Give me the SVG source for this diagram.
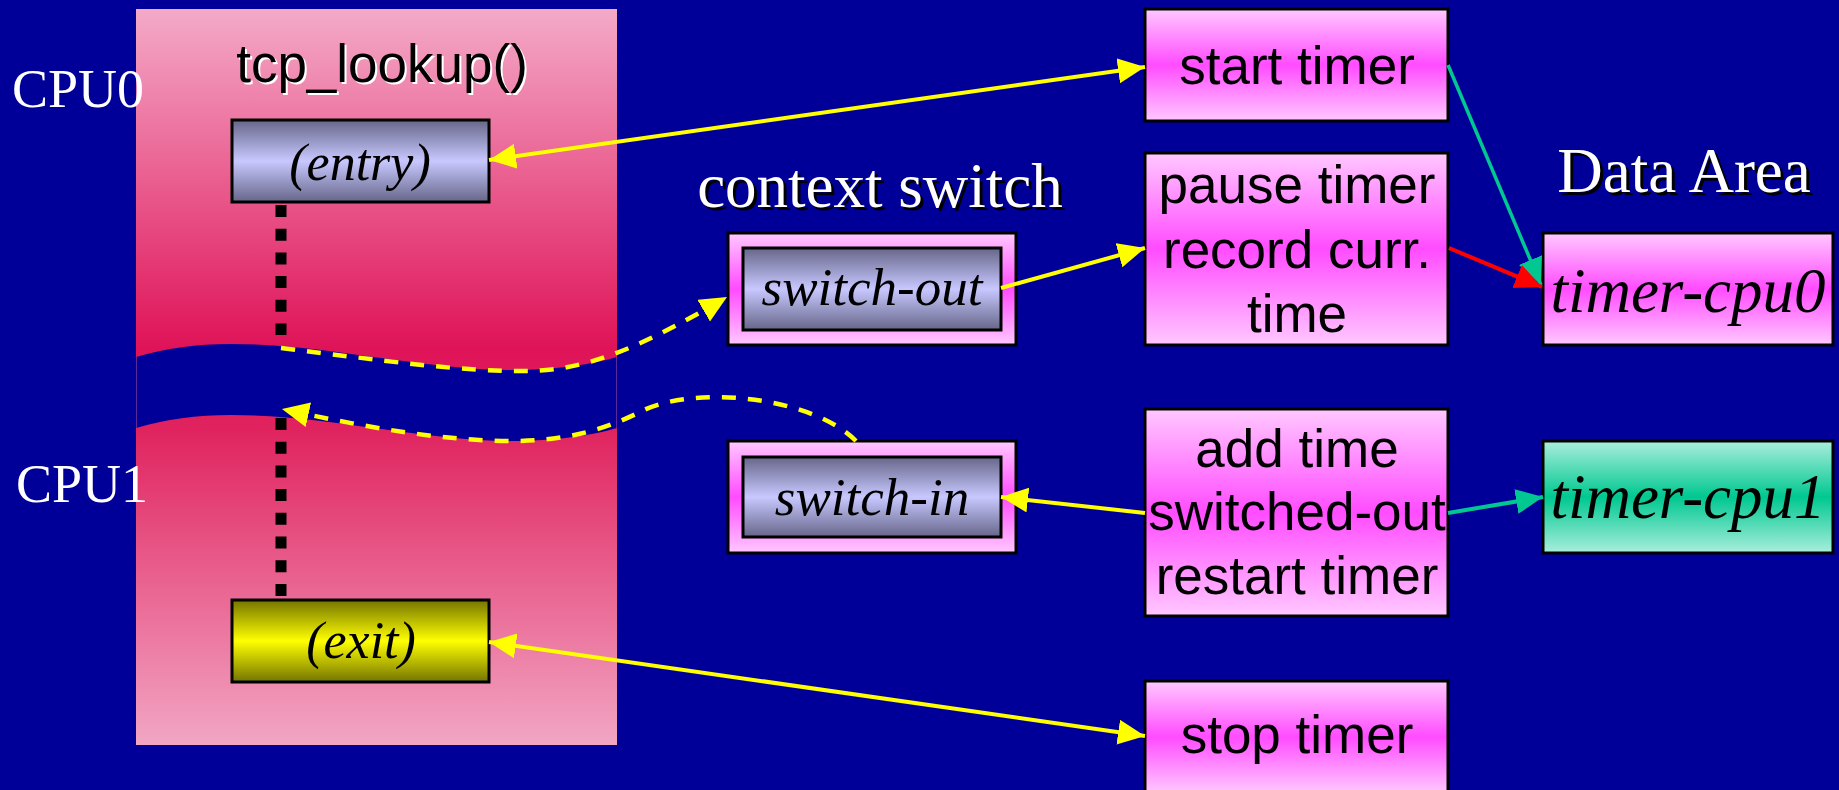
<svg xmlns="http://www.w3.org/2000/svg" width="1839" height="790" viewBox="0 0 1839 790">
<defs>
<style>
.sans{font-family:"Liberation Sans",Arial,sans-serif}
.serif{font-family:"Liberation Serif","Times New Roman",serif}
.it{font-style:italic}
.box{stroke:#000;stroke-width:3}
.lbl{font-size:53px;fill:#000;text-anchor:middle}
.ital{font-size:52px;fill:#000;text-anchor:middle}
.cpu{font-size:54px;fill:#fff}
.head{font-size:63px;text-anchor:middle}
.ylw{stroke:#ffff00;stroke-width:4;fill:none}
.dash{stroke:#ffff00;stroke-width:4.5;fill:none;stroke-dasharray:14 12}
.dots{stroke:#000;stroke-width:11;stroke-dasharray:12 11.7}
</style>
<linearGradient id="gPanel" gradientUnits="userSpaceOnUse" x1="0" y1="9" x2="0" y2="745">
<stop offset="0" stop-color="#f4aac8"/>
<stop offset="0.46" stop-color="#df1358"/>
<stop offset="0.57" stop-color="#e0235f"/>
<stop offset="1" stop-color="#f2a6c4"/>
</linearGradient>
<linearGradient id="gBlue" x1="0" y1="0" x2="0" y2="1">
<stop offset="0" stop-color="#66668a"/>
<stop offset="0.5" stop-color="#c8c8ff"/>
<stop offset="1" stop-color="#66668a"/>
</linearGradient>
<linearGradient id="gYel" x1="0" y1="0" x2="0" y2="1">
<stop offset="0" stop-color="#747400"/>
<stop offset="0.5" stop-color="#ffff00"/>
<stop offset="1" stop-color="#747400"/>
</linearGradient>
<linearGradient id="gPink" x1="0" y1="0" x2="0" y2="1">
<stop offset="0" stop-color="#ffc8ff"/>
<stop offset="0.5" stop-color="#ff4cff"/>
<stop offset="1" stop-color="#ffc8ff"/>
</linearGradient>
<linearGradient id="gGreen" x1="0" y1="0" x2="0" y2="1">
<stop offset="0" stop-color="#aaeedd"/>
<stop offset="0.5" stop-color="#00c890"/>
<stop offset="1" stop-color="#aaeedd"/>
</linearGradient>
<marker id="aY" markerUnits="userSpaceOnUse" markerWidth="28" markerHeight="26" refX="27" refY="12.5" orient="auto-start-reverse">
<path d="M0,0 L27,12.5 L0,25 Z" fill="#ffff00"/>
</marker>
<marker id="aG" markerUnits="userSpaceOnUse" markerWidth="28" markerHeight="26" refX="27" refY="12.5" orient="auto">
<path d="M0,0 L27,12.5 L0,25 Z" fill="#00c890"/>
</marker>
<marker id="aR" markerUnits="userSpaceOnUse" markerWidth="28" markerHeight="26" refX="27" refY="12.5" orient="auto">
<path d="M0,0 L27,12.5 L0,25 Z" fill="#ff0000"/>
</marker>
</defs>
<rect x="0" y="0" width="1839" height="790" fill="#000099"/>

<g id="panel">
<rect x="136" y="9" width="481" height="736" fill="url(#gPanel)"/>
<path d="M136,357 Q180,344 231,344 C330,344 430,372 524,370 Q580,368 617,357 L617,428 Q580,439 524,441 C430,443 330,415 231,415 Q180,415 136,428 Z" fill="#000099"/>
<line x1="136.5" y1="357" x2="136.5" y2="428" stroke="#5a2a9a" stroke-width="1"/>
<line x1="616.5" y1="357" x2="616.5" y2="428" stroke="#5a2a9a" stroke-width="1"/>
<text class="sans" x="384" y="84" font-size="53" fill="#fff" text-anchor="middle">tcp_lookup()</text>
<text class="sans" x="382" y="82" font-size="53" fill="#000" text-anchor="middle">tcp_lookup()</text>
</g>

<g id="cpu0-label"><text class="serif cpu" x="12" y="107">CPU0</text></g>
<g id="cpu1-label"><text class="serif cpu" x="16" y="502">CPU1</text></g>

<g id="entry">
<rect class="box" x="232" y="120" width="257" height="82" fill="url(#gBlue)"/>
<text class="serif it ital" x="360" y="180">(entry)</text>
</g>

<g id="exit">
<rect class="box" x="232" y="600" width="257" height="82" fill="url(#gYel)"/>
<text class="serif it ital" x="361" y="658">(exit)</text>
</g>

<g id="context-switch-label">
<text class="serif head" x="883" y="210" fill="#000">context switch</text>
<text class="serif head" x="880" y="207" fill="#fff">context switch</text>
</g>

<g id="switch-out">
<rect class="box" x="728" y="233" width="288" height="112" fill="url(#gPink)"/>
<rect class="box" x="743" y="248" width="258" height="82" fill="url(#gBlue)"/>
<text class="serif it" x="872" y="305" font-size="53" text-anchor="middle">switch-out</text>
</g>

<g id="switch-in">
<rect class="box" x="728" y="441" width="288" height="112" fill="url(#gPink)"/>
<rect class="box" x="743" y="457" width="258" height="80" fill="url(#gBlue)"/>
<text class="serif it" x="872" y="515" font-size="53" text-anchor="middle">switch-in</text>
</g>

<g id="start-timer">
<rect class="box" x="1145" y="9" width="303" height="112" fill="url(#gPink)"/>
<text class="sans lbl" x="1297" y="84">start timer</text>
</g>

<g id="pause-timer">
<rect class="box" x="1145" y="153" width="303" height="192" fill="url(#gPink)"/>
<text class="sans lbl" x="1297" y="203">pause timer</text>
<text class="sans lbl" x="1297" y="268">record curr.</text>
<text class="sans lbl" x="1297" y="332">time</text>
</g>

<g id="add-time">
<rect class="box" x="1145" y="409" width="303" height="207" fill="url(#gPink)"/>
<text class="sans lbl" x="1297" y="467">add time</text>
<text class="sans lbl" x="1297" y="530">switched-out</text>
<text class="sans lbl" x="1297" y="594">restart timer</text>
</g>

<g id="stop-timer">
<rect class="box" x="1145" y="681" width="303" height="112" fill="url(#gPink)"/>
<text class="sans lbl" x="1297" y="753">stop timer</text>
</g>

<g id="data-area-label">
<text class="serif head" x="1687" y="195" fill="#000">Data Area</text>
<text class="serif head" x="1684" y="192" fill="#fff">Data Area</text>
</g>

<g id="timer-cpu0">
<rect class="box" x="1543" y="233" width="290" height="112" fill="url(#gPink)"/>
<text class="serif it" x="1688" y="312" font-size="63" text-anchor="middle">timer-cpu0</text>
</g>

<g id="timer-cpu1">
<rect class="box" x="1543" y="441" width="290" height="112" fill="url(#gGreen)"/>
<text class="serif it" x="1688" y="518" font-size="63" text-anchor="middle">timer-cpu1</text>
</g>

<g id="connectors">
<line class="dots" x1="281" y1="205" x2="281" y2="335"/>
<line class="dots" x1="281" y1="418" x2="281" y2="596"/>
<path class="dash" d="M281,348 C380,360 460,372 530,371 C592,370 650,342 727,297" marker-end="url(#aY)"/>
<path class="dash" d="M856,441 C810,395 690,385 640,412 C600,432 560,441 513,441 C440,441 360,426 282,409" marker-end="url(#aY)"/>
<line class="ylw" x1="489" y1="160" x2="1145" y2="67" marker-start="url(#aY)" marker-end="url(#aY)"/>
<line class="ylw" x1="489" y1="642" x2="1145" y2="736" marker-start="url(#aY)" marker-end="url(#aY)"/>
<line class="ylw" x1="1001" y1="288" x2="1145" y2="248" marker-end="url(#aY)"/>
<line class="ylw" x1="1145" y1="513" x2="1001" y2="497" marker-end="url(#aY)"/>
<line x1="1448" y1="65" x2="1541" y2="285" stroke="#00c890" stroke-width="3.5" marker-end="url(#aG)"/>
<line x1="1449" y1="248" x2="1542" y2="287" stroke="#ff0000" stroke-width="4" marker-end="url(#aR)"/>
<line x1="1448" y1="513" x2="1543" y2="497" stroke="#00c890" stroke-width="4" marker-end="url(#aG)"/>
</g>
</svg>
